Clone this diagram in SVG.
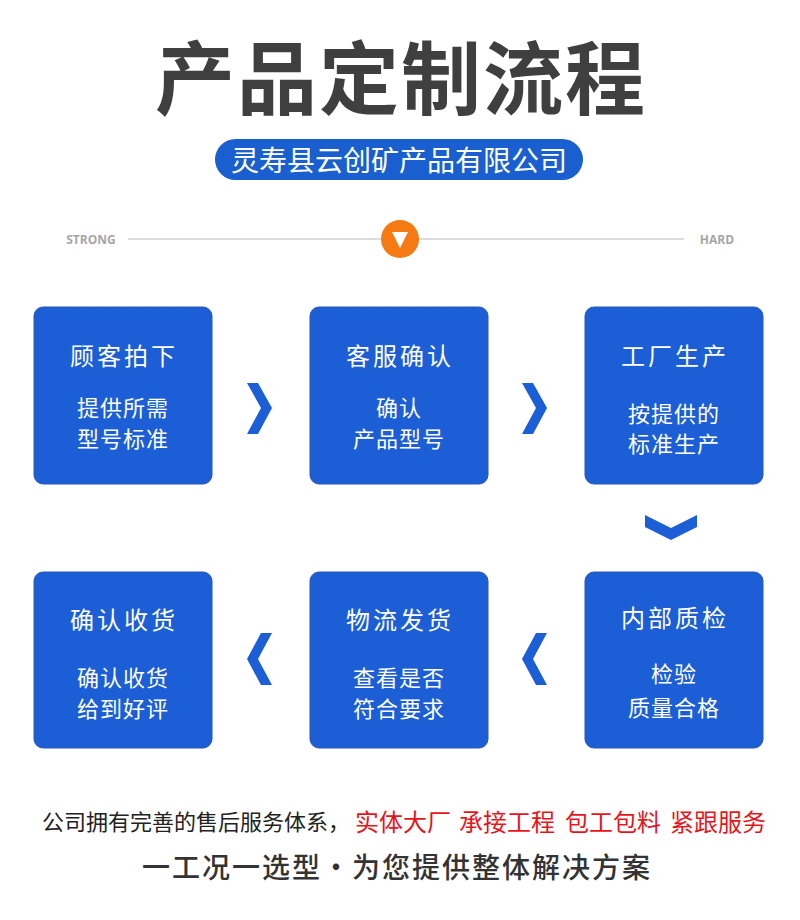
<svg xmlns="http://www.w3.org/2000/svg" width="800" height="920" viewBox="0 0 800 920">
<style>
text{font-family:"Noto Sans CJK SC","Noto Sans",sans-serif;dominant-baseline:central;text-anchor:middle}
.box{fill:#1b5ed6;stroke:#2a56b8;stroke-width:1}
.chev{fill:#1b5ed6}
.t{fill:#fff;font-size:24px;letter-spacing:3px}
.s{fill:#fff;font-size:22px;letter-spacing:1px}
.lbl{fill:#a6a6a6;font-family:"Open Sans","Liberation Sans",sans-serif;font-size:12px;font-weight:700}
.red{fill:#e8141b;font-size:24px}
</style>
<rect width="800" height="920" fill="#fff"/>
<text x="401" y="73" font-size="80" font-weight="700" fill="#3f3f3f" letter-spacing="2">产品定制流程</text>
<rect x="215" y="139" width="368" height="41" rx="20.5" fill="#1a5fcf"/>
<text x="399" y="159" font-size="28" fill="#fff">灵寿县云创矿产品有限公司</text>
<g id="slider">
<line x1="128" y1="239" x2="684" y2="239" stroke="#dcdcdc" stroke-width="2"/>
<text class="lbl" x="91" y="239">STRONG</text>
<text class="lbl" x="717" y="239">HARD</text>
<circle cx="400" cy="239" r="19" fill="#f57a14"/>
<polygon points="392,232 408,232 400,248" fill="#fff"/>
</g>
<g id="node1"><rect class="box" x="34" y="307" width="178" height="177" rx="9"/>
<text class="t" x="124" y="354">顾客拍下</text><text class="s" x="123" y="406">提供所需</text><text class="s" x="123" y="437">型号标准</text></g>
<g id="node2"><rect class="box" x="310" y="307" width="178" height="177" rx="9"/>
<text class="t" x="400" y="354">客服确认</text><text class="s" x="399" y="406">确认</text><text class="s" x="399" y="437">产品型号</text></g>
<g id="node3"><rect class="box" x="585" y="307" width="178" height="177" rx="9"/>
<text class="t" x="675" y="354">工厂生产</text><text class="s" x="674" y="412">按提供的</text><text class="s" x="674" y="442">标准生产</text></g>
<g id="node4"><rect class="box" x="585" y="572" width="178" height="176" rx="9"/>
<text class="t" x="675" y="616">内部质检</text><text class="s" x="674" y="672">检验</text><text class="s" x="674" y="706">质量合格</text></g>
<g id="node5"><rect class="box" x="310" y="572" width="178" height="176" rx="9"/>
<text class="t" x="400" y="618">物流发货</text><text class="s" x="399" y="676">查看是否</text><text class="s" x="399" y="707">符合要求</text></g>
<g id="node6"><rect class="box" x="34" y="572" width="178" height="176" rx="9"/>
<text class="t" x="124" y="618">确认收货</text><text class="s" x="123" y="676">确认收货</text><text class="s" x="123" y="707">给到好评</text></g>
<g id="connectors">
<polygon class="chev" points="247,383 258,383 272,408 258,434 247,434 261,408"/>
<polygon class="chev" points="522,383 533,383 547,408 533,434 522,434 536,408"/>
<polygon class="chev" points="645,515 671,528 697,515 697,527 671,540 645,527"/>
<polygon class="chev" points="547,633 536,633 522,659 536,685 547,685 533,659"/>
<polygon class="chev" points="272,633 261,633 247,659 261,685 272,685 258,659"/>
</g>
<text y="820" font-size="22" style="text-anchor:start"><tspan x="42" fill="#222">公司拥有完善的售后服务体系，</tspan><tspan class="red" x="355">实体大厂</tspan><tspan class="red" x="459">承接工程</tspan><tspan class="red" x="565">包工包料</tspan><tspan class="red" x="670">紧跟服务</tspan></text>
<text x="397" y="866" font-size="28" font-weight="500" fill="#333" letter-spacing="2">一工况一选型·为您提供整体解决方案</text>
</svg>
